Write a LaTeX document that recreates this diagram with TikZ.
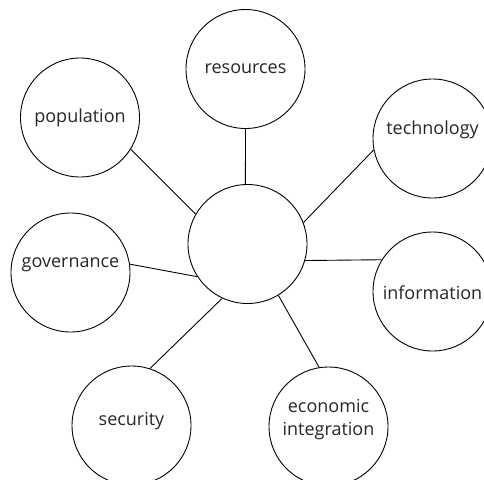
\documentclass[tikz,border=0pt]{standalone}
\usepackage{fontspec}
\setmainfont{Open Sans}
\usepackage{tikz}
\tikzset{topic/.style={draw, circle, minimum size=119pt, inner sep=0pt, line width=.9pt},
  topictext/.style={font=\fontsize{18}{23}\selectfont, align=center, text=black!85},
  spoke/.style={line width=.9pt}}

\begin{document}
\begin{tikzpicture} [x=1pt,y=-1pt]
\useasboundingbox (0,0) rectangle (484,479);
\node[topic] (hub) at (247.5,244) {};
\foreach \nm/\x/\y/\dy/\txt in {res/245.5/69/0/resources, pop/80/117.5/0/population,
  tech/432.5/138.5/8.5/technology, gov/70.5/272.5/7.5/governance,
  info/432.5/291.5/-1.5/information, sec/131.5/425.5/4/security,
  econ/328.5/426.5/6.5/{economic\\integration}} {
 \node[topic, label={[topictext, yshift=\dy pt]center:\txt}] (\nm) at (\x,\y) {};
}
\foreach \nm/\a/\b in {res/92/270, pop/150/-32, tech/21.5/191, gov/213/8,
  info/-16.5/148, sec/245/72, econ/-59.5/99} {
 \draw[spoke] (hub.\a) -- (\nm.\b);
}
\end{tikzpicture}
\end{document}
